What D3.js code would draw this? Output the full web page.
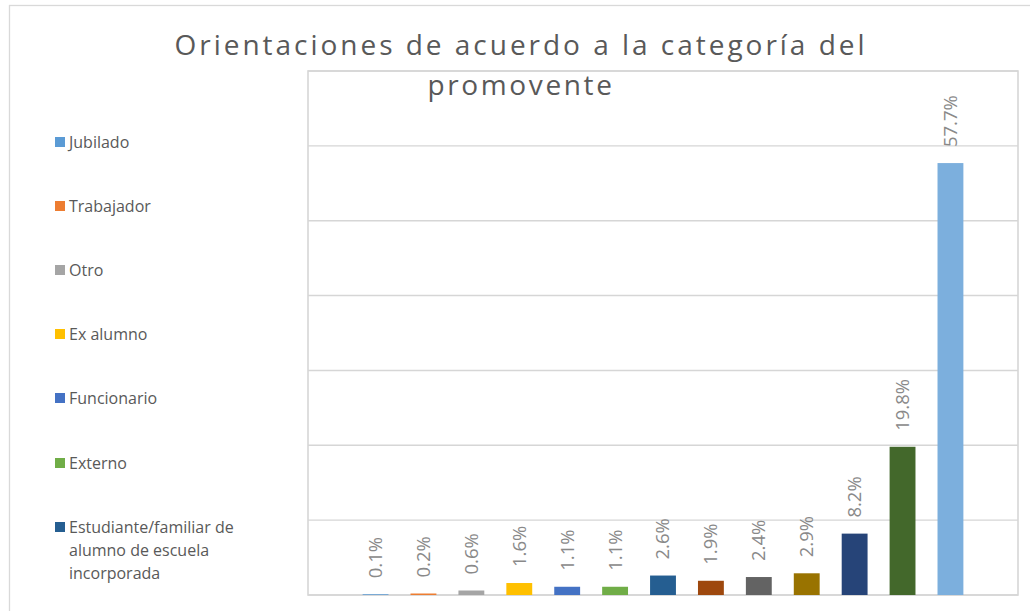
<!DOCTYPE html>
<html>
<head>
<meta charset="utf-8">
<script src="https://cdn.jsdelivr.net/npm/d3@7"></script>
<style>
  html, body { margin: 0; padding: 0; background: #fff; }
  svg { display: block; font-family: "Open Sans", "Noto Sans", sans-serif; }
</style>
</head>
<body>
<div id="chart"></div>
<script>
// Orientaciones por categoría del promovente (columnas agrupadas, una serie por categoría)
const legendLabels = ["Jubilado", "Trabajador", "Otro", "Ex alumno", "Funcionario", "Externo",
  "Estudiante/familiar de alumno de escuela incorporada"];
const values = [0.1, 0.2, 0.6, 1.6, 1.1, 1.1, 2.6, 1.9, 2.4, 2.9, 8.2, 19.8, 57.7];
const colors = ["#5b9bd5", "#ed7d31", "#a5a5a5", "#ffc000", "#4472c4", "#70ad47", "#255e91",
  "#9e480e", "#636363", "#997300", "#264478", "#43682b", "#7cafdd"];
const yTicks = [0, 10, 20, 30, 40, 50, 60, 70];
const titleLines = ["Orientaciones de acuerdo a la categoría del", "promovente"];

const W = 1030, H = 611;
const plot = { left: 308, right: 1018, top: 71, bottom: 595 };

const svg = d3.select('#chart').append('svg').attr('width', W).attr('height', H);

// marco exterior
svg.append('rect').attr('x', 9.5).attr('y', 5.5).attr('width', W + 10).attr('height', H + 10)
  .attr('fill', '#fff').attr('stroke', '#d9d9d9').attr('stroke-width', 1.3);

const x = d3.scaleBand().domain(d3.range(values.length))
  .range([plot.left, plot.right]).paddingInner(0.46).paddingOuter(1.14);
const y = d3.scaleLinear().domain([0, 70]).range([plot.bottom, plot.top]);

// rejilla
svg.selectAll('line.grid').data(yTicks).enter().append('line')
  .attr('class', 'grid')
  .attr('x1', plot.left).attr('x2', plot.right)
  .attr('y1', d => y(d)).attr('y2', d => y(d))
  .attr('stroke', '#d6d6d6').attr('stroke-width', 1.4);

// marco del área de trazado
svg.append('rect').attr('x', plot.left).attr('y', plot.top)
  .attr('width', plot.right - plot.left).attr('height', plot.bottom - plot.top)
  .attr('fill', 'none').attr('stroke', '#d6d6d6').attr('stroke-width', 1.6);

svg.selectAll('rect.bar').data(values).enter().append('rect')
  .attr('class', 'bar')
  .attr('x', (d, i) => x(i)).attr('width', x.bandwidth())
  .attr('y', d => y(d)).attr('height', d => y(0) - y(d))
  .attr('fill', (d, i) => colors[i]);

svg.selectAll('text.lbl').data(values).enter().append('text')
  .attr('class', 'lbl')
  .attr('transform', (d, i) => `translate(${x(i) + x.bandwidth() / 2}, ${y(d) - 16}) rotate(-90)`)
  .attr('dy', '0.35em')
  .attr('font-size', '18.5px').attr('fill', '#898989')
  .text(d => d.toFixed(1) + '%');

// título con espaciado de letras
const titleW = [693, 187];
titleLines.forEach((t, i) => {
  const tx = svg.append('text')
    .attr('x', 521).attr('y', 55 + i * 40)
    .attr('text-anchor', 'middle')
    .attr('font-size', '28px').attr('fill', '#595959')
    .text(t);
  const natural = tx.node().getComputedTextLength();
  const ls = (titleW[i] - natural) / t.length;
  tx.attr('letter-spacing', ls + 'px');
});

// leyenda
const legendY = [142, 206, 270, 334, 398, 463, 527];
const lg = svg.append('g');
legendLabels.forEach((name, i) => {
  lg.append('rect').attr('x', 55).attr('y', legendY[i] - 5).attr('width', 10).attr('height', 10)
    .attr('fill', colors[i]);
  const lines = i === 6 ? ["Estudiante/familiar de", "alumno de escuela", "incorporada"] : [name];
  lines.forEach((ln, j) => {
    lg.append('text').attr('x', 69).attr('y', legendY[i] + j * 23).attr('dy', '0.35em')
      .attr('font-size', '16px').attr('fill', '#595959').text(ln);
  });
});
</script>
</body>
</html>
